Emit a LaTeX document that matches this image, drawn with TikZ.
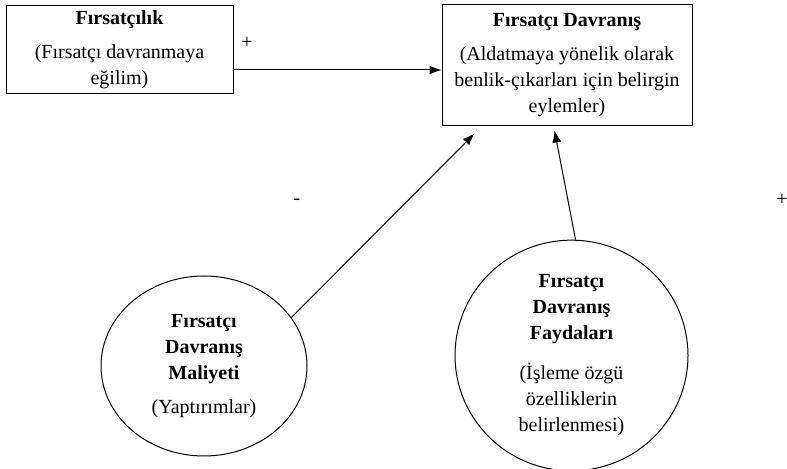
\documentclass[tikz,border=0pt]{standalone}
\usepackage{fontspec}
\setmainfont{Liberation Serif}
\usetikzlibrary{shapes.geometric,arrows.meta}

\begin{document}
\begin{tikzpicture}[x=0.5pt, y=-0.5pt, font=\fontsize{10}{13}\selectfont,
  box/.style={draw, line width=0.5pt, inner sep=0pt, align=center},
  blob/.style={draw, ellipse, line width=0.5pt, inner sep=0pt, align=center},
  link/.style={line width=0.5pt, -{Latex[length=6pt, width=4.5pt]}}]
\useasboundingbox (0,0) rectangle (787,469);
% kutular
\node[box, minimum width=113.5pt, minimum height=44pt] (firsat) at (119.5,50)
  {\textbf{Fırsatçılık}\\[4pt](Fırsatçı davranmaya\\eğilim)\rule[-2pt]{0pt}{2pt}};
\node[box, minimum width=125pt, minimum height=60.5pt] (davranis) at (567,65.5)
  {\textbf{Fırsatçı Davranış}\\[4pt](Aldatmaya yönelik olarak\\benlik-çıkarları için belirgin\\eylemler)\rule[-2pt]{0pt}{2pt}};
% elipsler
\node[blob, minimum width=103pt, minimum height=90pt] (maliyet) at (204,366)
  {\textbf{Fırsatçı}\\\textbf{Davranış}\\\textbf{Maliyeti}\\[4pt](Yaptırımlar)};
\node[blob, minimum width=116.5pt, minimum height=111pt] (fayda) at (571.5,355.5)
  {\textbf{Fırsatçı}\\\textbf{Davranış}\\\textbf{Faydaları}\\[7pt](İşleme özgü\\özelliklerin\\belirlenmesi)\rule[-3pt]{0pt}{3pt}};
% oklar
\draw[link] ([yshift=-10pt]firsat.east) -- ([yshift=-10pt]firsat.east -| davranis.west);
\draw[link] (maliyet.29) -- ([shift={(33,7)}]davranis.south west);
\draw[link] (fayda.88) -- ([shift={(113,4)}]davranis.south west);
% isaretler
\node (arti1) at (247,43) {+};
\node (eksi) at (297,202) {-};
\node (arti2) at (782,200) {+};
\end{tikzpicture}
\end{document}
